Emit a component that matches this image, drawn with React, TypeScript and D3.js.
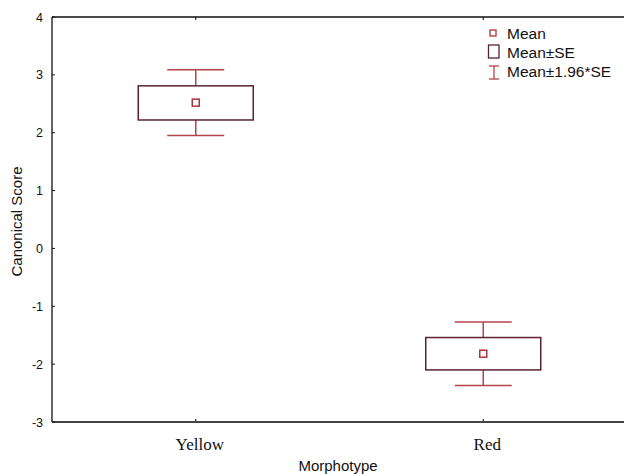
import React from "react";
import * as d3 from "d3";

const categories = ["Yellow", "Red"];
const means = [2.52, -1.82];
const seLow = [2.22, -2.1];
const seHigh = [2.81, -1.54];
const ciLow = [1.95, -2.37];
const ciHigh = [3.09, -1.27];
const yTicks = [-3, -2, -1, 0, 1, 2, 3, 4];

const W = 624, H = 474;
const left = 52, right = 627, top = 17, bottom = 422;

export default function App() {
  const x = d3.scalePoint<string>().domain(categories).range([left, right]).padding(0.5);
  const y = d3.scaleLinear().domain([-3, 4]).range([bottom, top]);
  const boxW = 115, capW = 57, mk = 7;
  const boxColor = "#5b2330";
  const whiskColor = "#b5454c";
  const meanColor = "#b0323a";
  return (
    <svg width={W} height={H} style={{ position: "absolute", left: 0, top: 0, background: "#fff" }}
      fontFamily="'Liberation Sans', Arial, sans-serif">
      <rect x={0} y={0} width={W} height={H} fill="#fff" />
      {categories.map((c, i) => {
        const cx = x(c)!;
        return (
          <g key={c}>
            <line x1={cx} x2={cx} y1={y(ciHigh[i])} y2={y(seHigh[i])} stroke={whiskColor} strokeWidth={1.5} />
            <line x1={cx} x2={cx} y1={y(seLow[i])} y2={y(ciLow[i])} stroke={whiskColor} strokeWidth={1.5} />
            <line x1={cx - capW / 2} x2={cx + capW / 2} y1={y(ciHigh[i])} y2={y(ciHigh[i])} stroke={whiskColor} strokeWidth={1.5} />
            <line x1={cx - capW / 2} x2={cx + capW / 2} y1={y(ciLow[i])} y2={y(ciLow[i])} stroke={whiskColor} strokeWidth={1.5} />
            <rect x={cx - boxW / 2} y={y(seHigh[i])} width={boxW} height={y(seLow[i]) - y(seHigh[i])}
              fill="none" stroke={boxColor} strokeWidth={1.5} />
            <rect x={cx - mk / 2} y={y(means[i]) - mk / 2} width={mk} height={mk} fill="#fff" stroke={meanColor} strokeWidth={1.5} />
            <line x1={cx} x2={cx} y1={bottom} y2={bottom - 3} stroke="#000" strokeWidth={1} />
            <line x1={cx} x2={cx} y1={top} y2={top + 3} stroke="#000" strokeWidth={1} />
            <text x={cx + 4} y={450} textAnchor="middle" fontFamily="'Liberation Serif', 'Times New Roman', serif" fontSize={17} fill="#111">{c}</text>
          </g>
        );
      })}
      {/* frame */}
      <line x1={left} x2={W} y1={top} y2={top} stroke="#111" strokeWidth={1.3} />
      <line x1={left} x2={left} y1={top} y2={bottom} stroke="#111" strokeWidth={1.3} />
      <line x1={left} x2={W} y1={bottom} y2={bottom} stroke="#444" strokeWidth={2} />
      {yTicks.map(t => (
        <g key={t}>
          <line x1={left} x2={left + 3} y1={y(t)} y2={y(t)} stroke="#111" strokeWidth={1} />
          <text x={43} y={y(t) + 4.5} textAnchor="end" fontSize={12.5} fill="#111">{t}</text>
        </g>
      ))}
      <text transform={`translate(22,${(top + bottom) / 2 + 2}) rotate(-90)`} textAnchor="middle" fontSize={15} fill="#111">Canonical Score</text>
      <text x={338} y={471} textAnchor="middle" fontSize={15} fill="#111">Morphotype</text>
      {/* legend */}
      <rect x={490} y={30} width={6} height={6} fill="#fff" stroke={meanColor} strokeWidth={1.3} />
      <text x={507} y={39} fontSize={15.5} fill="#111">Mean</text>
      <rect x={488.5} y={45} width={10.5} height={13} fill="#fff" stroke={boxColor} strokeWidth={1.3} />
      <text x={507} y={58} fontSize={15.5} fill="#111">Mean±SE</text>
      <line x1={489} x2={499} y1={66} y2={66} stroke={whiskColor} strokeWidth={1.3} />
      <line x1={489} x2={499} y1={79} y2={79} stroke={whiskColor} strokeWidth={1.3} />
      <line x1={494} x2={494} y1={66} y2={79} stroke={whiskColor} strokeWidth={1.3} />
      <text x={507} y={77} fontSize={15.5} fill="#111">Mean±1.96*SE</text>
    </svg>
  );
}
